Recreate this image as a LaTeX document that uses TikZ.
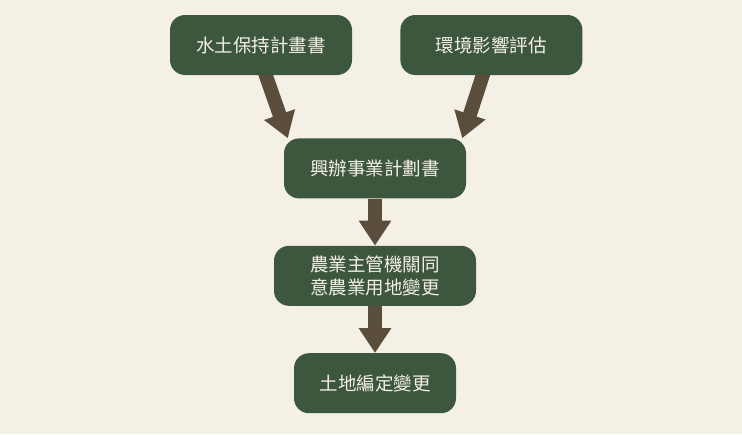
\documentclass[tikz,border=0pt]{standalone}
\usepackage{fontspec}
\setmainfont{Noto Sans CJK TC}
\usetikzlibrary{arrows.meta,positioning,backgrounds}
\definecolor{bgcream}{HTML}{F5F0E6}
\definecolor{boxgreen}{HTML}{3D573E}
\definecolor{arrowbrown}{HTML}{5B4D3C}
\definecolor{boxtext}{HTML}{F5F0E6}

\begin{document}
\begin{tikzpicture}[x=1pt,y=1pt]
	\tikzset{block/.style={rectangle, rounded corners=15pt, align=center, fill=boxgreen, text=boxtext,
			minimum width=182pt, minimum height=60pt, font=\fontsize{18.5}{23}\selectfont},
		flow/.style={-{Triangle[width=31pt,length=25pt]}, line width=14pt, draw=arrowbrown},
	}
	\useasboundingbox (0,0) rectangle (742,-434);
	\node [block] (sw) at (261,-45) {水土保持計畫書};
	\node [block, right = 48pt of sw] (env) {環境影響評估};
	\node [block, below = 63pt of sw, xshift=114pt] (proj) {興辦事業計劃書};
	\node [block, below = 47pt of proj, minimum width=202pt] (agri) {農業主管機關同\\意農業用地變更};
	\node [block, below = 47pt of agri, minimum width=162pt] (land) {土地編定變更};
	\begin{scope}[on background layer]
		\fill[bgcream] (0,0) rectangle (742,-434);
		\draw[flow] ([xshift=3pt,yshift=5pt]sw.south) -- ([xshift=4pt]proj.north west);
		\draw[flow] ([xshift=-7pt,yshift=5pt]env.south) -- ([xshift=-4pt]proj.north east);
		\draw[flow] (proj.south) -- (agri.north);
		\draw[flow] (agri.south) -- (land.north);
	\end{scope}
\end{tikzpicture}
\end{document}
